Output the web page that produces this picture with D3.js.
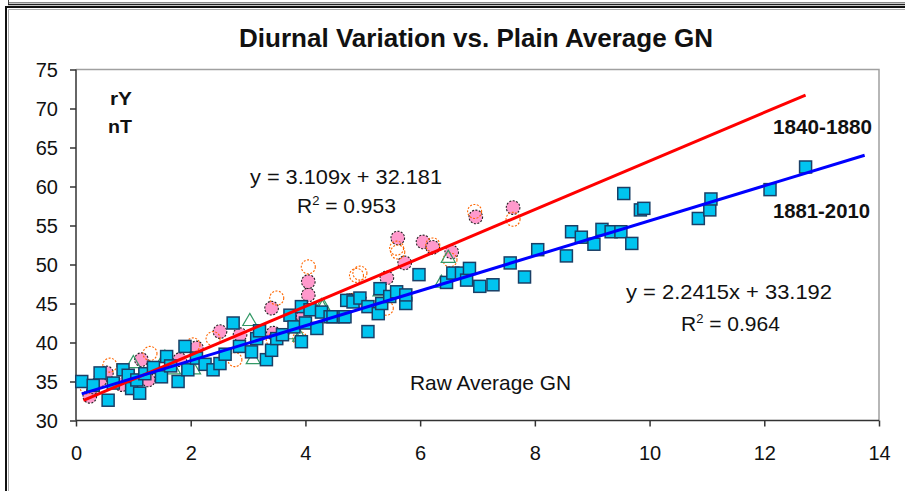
<!DOCTYPE html>
<html><head><meta charset="utf-8">
<script src="https://cdn.jsdelivr.net/npm/d3@7"></script>
<style>html,body{margin:0;padding:0;background:#fff;}svg{display:block;font-family:Arial,"Liberation Sans",sans-serif;}</style>
</head><body><svg id="c" width="905" height="491"></svg>
<script>
// ---- data ----
const xTicks = [0,2,4,6,8,10,12,14];
const yTicks = [30,35,40,45,50,55,60,65,70,75];
const series1881 = [ // blue squares (1881-2010)
[0.10,35.0],[0.30,34.5],[0.42,36.1],[0.56,32.6],[0.65,34.8],[0.82,36.5],[0.91,35.8],[0.97,34.1],[1.06,35.2],[1.11,33.5],
[1.20,36.0],[1.35,36.8],[1.49,35.6],[1.58,38.2],[1.65,37.0],[1.78,35.0],[1.90,39.5],[1.95,36.5],
[2.10,38.0],[2.25,37.2],[2.39,36.5],[2.51,37.3],[2.60,38.5],[2.74,42.5],[2.85,39.5],[3.06,38.8],[3.15,40.5],[3.20,41.5],
[3.32,37.8],[3.41,39.0],[3.50,40.5],[3.60,41.0],[3.73,43.5],[3.80,42.0],[3.93,44.6],[3.93,40.1],[4.00,42.5],
[4.08,44.2],[4.20,41.8],[4.28,43.9],[4.43,43.3],[4.48,43.3],[4.66,43.3],[4.69,43.3],[4.72,45.4],[4.83,45.2],[4.95,45.7],
[5.09,44.6],[5.09,41.4],[5.27,43.7],[5.30,46.9],[5.33,45.0],[5.47,45.9],[5.59,46.5],[5.75,45.0],[5.75,46.1],[5.98,48.7],
[6.46,47.7],[6.57,48.9],[6.72,48.9],[6.81,48.0],[6.86,49.5],[7.04,47.2],[7.27,47.4],[7.57,50.2],[7.82,48.4],[8.05,51.9],
[8.55,51.1],[8.64,54.2],[8.81,53.5],[9.03,52.6],[9.17,54.5],[9.33,54.2],[9.50,54.2],[9.55,59.1],[9.69,52.7],[9.84,57.0],
[9.90,57.2],[10.85,55.9],[11.05,57.0],[11.07,58.4],[12.10,59.6],[12.72,62.5]
];
const seriesPink = [ // pink filled circles (1840-1880)
[0.24,33.1],[0.30,34.3],[0.42,35.2],[0.53,36.1],[0.80,34.6],[1.14,37.8],[1.26,35.2],[1.81,37.8],[2.10,39.3],[2.51,41.4],
[2.86,41.0],[3.41,44.4],[3.44,41.2],[3.93,43.5],[3.96,43.3],[4.05,46.1],[4.05,47.8],[4.77,45.4],[4.80,45.4],[4.95,45.4],
[5.42,48.3],[5.61,53.4],[5.73,50.2],[6.05,52.9],[6.22,52.2],[6.55,51.6],[6.97,56.1],[7.62,57.3]
];
const seriesOrange = [ // orange open circles
[0.19,34.3],[0.59,37.1],[1.29,38.6],[2.04,39.7],[2.39,40.5],[2.77,37.8],[3.44,40.3],[3.50,45.7],[3.90,40.5],[4.05,49.7],
[4.83,45.4],[4.89,48.6],[4.95,48.9],[5.41,44.4],[5.59,52.1],[5.61,51.6],[6.22,52.5],[6.52,50.6],[6.95,56.8],[7.62,55.8]
];
const seriesGreen = [ // green open triangles
[1.00,37.3],[1.55,38.0],[1.70,36.5],[2.05,36.5],[3.03,42.7],[3.09,37.8],[3.79,41.0],[3.90,40.7],[4.28,44.6],[4.31,44.6],
[5.30,46.5],[6.37,47.6],[6.49,50.8]
];
const fitRed = {slope:3.109, intercept:32.181, x0:0.13, x1:12.72};
const fitBlue = {slope:2.2415, intercept:33.192, x0:0.10, x1:13.75};

// ---- layout ----
const svg = d3.select("#c");
const L=76, R=879, T=69.5, B=420.5;
const x = d3.scaleLinear().domain([0,14]).range([L,R]);
const y = d3.scaleLinear().domain([30,75]).range([B,T]);

// outer frame
svg.append("line").attr("x1",8).attr("x2",905).attr("y1",2.5).attr("y2",2.5).attr("stroke","#888").attr("stroke-width",1);
svg.append("line").attr("x1",8).attr("x2",905).attr("y1",4.5).attr("y2",4.5).attr("stroke","#222").attr("stroke-width",1.5);
svg.append("line").attr("x1",8.5).attr("x2",8.5).attr("y1",0).attr("y2",4).attr("stroke","#444");
svg.append("path").attr("d","M6,491V7H905").attr("fill","none").attr("stroke","#111").attr("stroke-width",2);
svg.append("path").attr("d","M8.5,491V9.5H905").attr("fill","none").attr("stroke","#aaa").attr("stroke-width",1);

// plot area border (top/right)
svg.append("path").attr("d",`M${L},${T}H${R}V${B}`).attr("fill","none").attr("stroke","#a0a0a0").attr("stroke-width",1.5);

// axes
const xAxis = d3.axisBottom(x).tickValues(xTicks).tickSize(6).tickPadding(9).tickFormat(d3.format("d"));
const gx = svg.append("g").attr("transform",`translate(0,${B})`).call(xAxis);
const yAxis = d3.axisLeft(y).tickValues(yTicks).tickSize(6).tickPadding(12).tickFormat(d3.format("d"));
const gy = svg.append("g").attr("transform",`translate(${L},0)`).call(yAxis);
[gx,gy].forEach(g=>{
  g.select(".domain").attr("stroke","#333").attr("stroke-width",1.5);
  g.selectAll(".tick line").attr("stroke","#333").attr("stroke-width",1.5);
  g.selectAll(".tick text").attr("fill","#111").style("font-size","20px").style("font-family","Arial, 'Liberation Sans', sans-serif");
});
gx.selectAll(".tick text").attr("dy",null).attr("y",39.5);
gy.selectAll(".tick text").attr("dy","0.36em");
gx.select(".domain").attr("d",`M${L},0H${R}`);
gy.select(".domain").attr("d",`M0,${B}V${T}`);

// markers
const gPts = svg.append("g");
gPts.selectAll(".pk").data(seriesPink).join("circle")
  .attr("cx",d=>x(d[0])).attr("cy",d=>y(d[1])).attr("r",6.8)
  .attr("fill","#FF99CC").attr("stroke","#222").attr("stroke-width",1.1).attr("stroke-dasharray","2,1.5");
gPts.selectAll(".or").data(seriesOrange).join("circle")
  .attr("cx",d=>x(d[0])).attr("cy",d=>y(d[1])).attr("r",7)
  .attr("fill","none").attr("stroke","#FF6600").attr("stroke-width",1.1).attr("stroke-dasharray","2,1.5");
const tri = d3.symbol().type(d3.symbolTriangle).size(85);
gPts.selectAll(".gr").data(seriesGreen).join("path")
  .attr("d",tri).attr("transform",d=>`translate(${x(d[0])},${y(d[1])})`)
  .attr("fill","none").attr("stroke","#339966").attr("stroke-width",1.2);
gPts.selectAll(".sq").data(series1881).join("rect")
  .attr("x",d=>x(d[0])-6).attr("y",d=>y(d[1])-6).attr("width",12).attr("height",12)
  .attr("fill","#00C4F0").attr("stroke","#1A3F66").attr("stroke-width",1.5);

// regression lines
[[fitRed,"#FF0000"],[fitBlue,"#0000FF"]].forEach(([f,c])=>{
  const pts=[f.x0,f.x1].map(v=>[x(v),y(f.slope*v+f.intercept)]);
  svg.append("line").attr("x1",pts[0][0]).attr("y1",pts[0][1]).attr("x2",pts[1][0]).attr("y2",pts[1][1])
    .attr("stroke",c).attr("stroke-width",3);
});

// texts
const txt=(t,xx,yy,opt={})=>{
  const e=svg.append("text").attr("x",xx).attr("y",yy)
  .attr("text-anchor",opt.anchor||"start").attr("fill","#111")
  .style("font-size",(opt.size||21)+"px").style("font-weight",opt.bold?"bold":"normal").text(t);
  if(opt.len) e.attr("textLength",opt.len).attr("lengthAdjust","spacingAndGlyphs");
  return e;};
txt("Diurnal Variation vs. Plain Average GN",239,47,{size:26,bold:true,len:474});
txt("rY",110,105,{size:18,bold:true,len:22});
txt("nT",108,133,{size:18,bold:true,len:24});
txt("y = 3.109x + 32.181",250,184,{len:192});
const r1=txt("R",297,213); r1.append("tspan").attr("dy",-8).style("font-size","13px").text("2");
r1.append("tspan").attr("dy",8).text(" = 0.953");
txt("1840-1880",773,134,{size:20,bold:true,len:99});
txt("1881-2010",773,218,{size:20,bold:true,len:97});
txt("y = 2.2415x + 33.192",626,299,{len:206});
const r2=txt("R",681,331); r2.append("tspan").attr("dy",-8).style("font-size","13px").text("2");
r2.append("tspan").attr("dy",8).text(" = 0.964");
txt("Raw Average GN",410,390,{len:161});
</script></body></html>
